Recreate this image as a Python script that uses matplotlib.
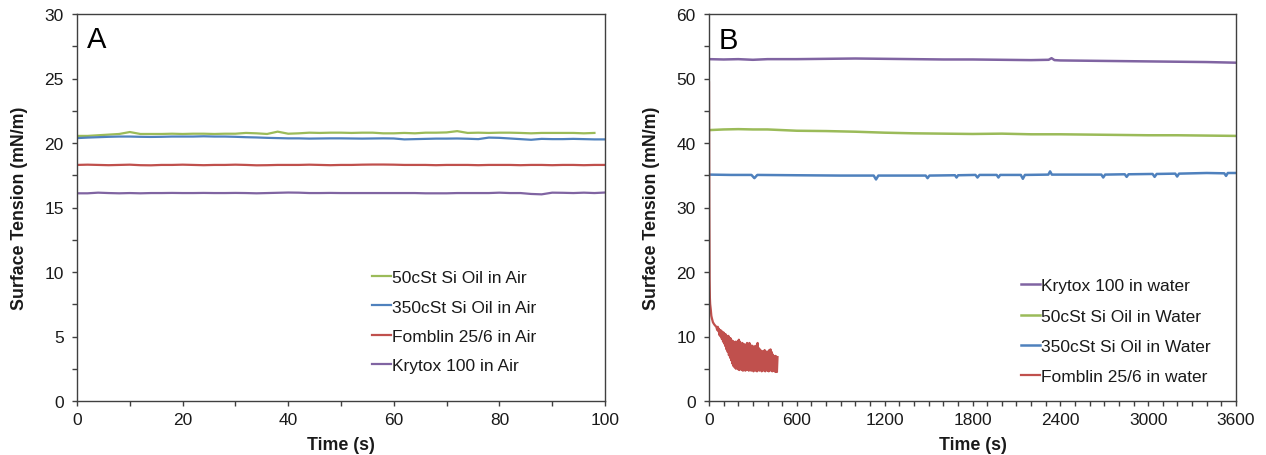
import numpy as np
import matplotlib
matplotlib.use("Agg")
import matplotlib.pyplot as plt
from matplotlib.ticker import MultipleLocator

plt.rcParams['font.family'] = ['Liberation Sans', 'DejaVu Sans']

GREEN = '#9BBB59'
BLUE = '#4F81BD'
RED = '#C0504D'
PURPLE = '#8064A2'

# ---------------- Panel A data (time step 2 s) ----------------
a_green = [20.55, 20.55, 20.6, 20.65, 20.7, 20.85, 20.7, 20.7, 20.7, 20.72,
           20.7, 20.72, 20.72, 20.7, 20.72, 20.72, 20.78, 20.75, 20.7, 20.88,
           20.72, 20.75, 20.8, 20.78, 20.8, 20.8, 20.78, 20.8, 20.8, 20.75,
           20.75, 20.78, 20.75, 20.8, 20.8, 20.82, 20.92, 20.78, 20.8, 20.78,
           20.8, 20.8, 20.78, 20.75, 20.78, 20.78, 20.78, 20.78, 20.75, 20.78]
a_blue = [20.38, 20.42, 20.45, 20.48, 20.5, 20.5, 20.48, 20.47, 20.48, 20.5,
          20.5, 20.5, 20.52, 20.5, 20.5, 20.48, 20.45, 20.43, 20.4, 20.38,
          20.36, 20.36, 20.34, 20.35, 20.36, 20.36, 20.35, 20.34, 20.35, 20.36,
          20.35, 20.28, 20.3, 20.32, 20.34, 20.34, 20.35, 20.33, 20.3, 20.42,
          20.4, 20.35, 20.3, 20.25, 20.32, 20.3, 20.3, 20.32, 20.3, 20.28, 20.28]
a_red = [18.3, 18.32, 18.3, 18.28, 18.3, 18.32, 18.28, 18.27, 18.3, 18.3,
         18.32, 18.3, 18.28, 18.3, 18.3, 18.32, 18.3, 18.27, 18.28, 18.3,
         18.3, 18.3, 18.32, 18.3, 18.28, 18.3, 18.3, 18.32, 18.33, 18.33,
         18.32, 18.3, 18.3, 18.3, 18.28, 18.3, 18.3, 18.3, 18.28, 18.3,
         18.3, 18.3, 18.28, 18.3, 18.3, 18.28, 18.3, 18.3, 18.28, 18.3, 18.3]
a_purple = [16.1, 16.1, 16.15, 16.12, 16.1, 16.12, 16.1, 16.12, 16.12, 16.13,
            16.12, 16.12, 16.13, 16.12, 16.12, 16.13, 16.12, 16.1, 16.12, 16.14,
            16.16, 16.15, 16.12, 16.12, 16.13, 16.12, 16.12, 16.12, 16.12, 16.12,
            16.12, 16.12, 16.12, 16.1, 16.1, 16.1, 16.12, 16.12, 16.12, 16.12,
            16.15, 16.12, 16.12, 16.05, 16.02, 16.15, 16.14, 16.12, 16.15, 16.12, 16.16]

# ---------------- Panel B data ----------------
b_purple_t = [0, 100, 200, 300, 400, 600, 800, 1000, 1200, 1400, 1600, 1800, 2000,
              2200, 2320, 2340, 2360, 2400, 2600, 2800, 3000, 3200, 3400, 3600]
b_purple = [53.0, 52.95, 53.0, 52.9, 53.0, 53.0, 53.05, 53.1, 53.05, 53.0, 52.95, 52.95, 52.9,
            52.85, 52.9, 53.15, 52.85, 52.8, 52.75, 52.7, 52.65, 52.6, 52.55, 52.45]

b_green_t = [0, 100, 200, 300, 400, 500, 600, 800, 1000, 1200, 1400, 1600, 1800,
             2000, 2200, 2400, 2600, 2800, 3000, 3200, 3400, 3600]
b_green = [42.0, 42.1, 42.15, 42.1, 42.1, 42.0, 41.9, 41.85, 41.75, 41.6, 41.5, 41.45, 41.4,
           41.45, 41.35, 41.35, 41.3, 41.25, 41.2, 41.2, 41.15, 41.1]

b_blue_t = [0, 150, 290, 310, 330, 600, 900, 1125, 1141, 1157, 1300, 1480, 1493, 1506,
            1680, 1691, 1702, 1820, 1834, 1848, 1965, 1977, 1989, 2130, 2144, 2158,
            2318, 2330, 2342, 2500, 2680, 2693, 2706, 2840, 2853, 2866, 3030, 3044,
            3058, 3185, 3198, 3211, 3400, 3520, 3532, 3544, 3600]
b_blue = [35.1, 35.05, 35.05, 34.55, 35.05, 35.0, 34.95, 34.95, 34.35, 34.95, 34.95, 34.95, 34.55, 34.95,
          35.0, 34.65, 35.0, 35.05, 34.65, 35.05, 35.05, 34.65, 35.05, 35.05, 34.45, 35.05,
          35.1, 35.6, 35.1, 35.1, 35.1, 34.65, 35.1, 35.15, 34.75, 35.15, 35.2, 34.75,
          35.2, 35.25, 34.8, 35.25, 35.35, 35.3, 34.9, 35.35, 35.35]

b_red_t0 = [0, 2, 4, 6, 8, 12, 16, 20, 27, 35, 42, 50, 56, 60, 64]
b_red0 = [49.4, 30.0, 19.0, 16.0, 15.0, 14.2, 13.2, 12.8, 12.2, 11.9, 11.7, 11.5, 11.0, 11.5, 10.8]
b_red_t1 = list(range(68, 469, 4))
b_red1 = [11.2, 10.2, 11.0, 10.0, 10.9, 9.6, 10.7, 9.2, 10.6, 8.9, 10.4, 8.5, 10.3, 8.0,
          10.0, 7.6, 10.1, 7.1, 9.8, 6.7, 9.7, 6.3, 9.4, 5.8, 9.3, 5.4, 9.0, 5.2, 9.2, 5.0,
          8.9, 5.1, 9.3, 4.9, 9.5, 4.8, 9.2, 5.0, 8.8, 4.8, 9.0, 4.7, 8.6, 4.9, 8.8, 4.7,
          8.5, 4.8, 9.0, 4.9, 8.7, 4.7, 9.0, 4.9, 8.4, 4.7, 8.6, 4.8, 8.3, 4.6, 8.5, 4.8,
          8.2, 4.7, 8.6, 4.6, 9.0, 4.8, 8.2, 4.7, 8.0, 4.8, 7.8, 4.6, 7.7, 4.8, 7.6, 4.7,
          7.9, 4.6, 7.7, 4.8, 7.5, 4.7, 7.7, 4.6, 7.9, 4.8, 8.0, 4.7, 7.6, 4.6, 7.2, 4.8,
          6.9, 4.6, 7.0, 4.5, 6.9, 4.5, 6.8]
b_red_t = b_red_t0 + b_red_t1
b_red = b_red0 + b_red1

labels_a = ['50cSt Si Oil in Air', '350cSt Si Oil in Air', 'Fomblin 25/6 in Air', 'Krytox 100 in Air']
labels_b = ['Krytox 100 in water', '50cSt Si Oil in Water', '350cSt Si Oil in Water', 'Fomblin 25/6 in water']

W, H = 1266, 456
fig = plt.figure(figsize=(W / 100, H / 100), dpi=100)
axA = fig.add_axes([77 / W, 1 - 402 / H, (605 - 77) / W, 387 / H])
axB = fig.add_axes([709 / W, 1 - 402 / H, (1236 - 709) / W, 387 / H])

TXT = '#1a1a1a'
SP = '#404040'
FS = 12.5

def style(ax):
    for s in ax.spines.values():
        s.set_color(SP)
        s.set_linewidth(1.0)
    ax.tick_params(which='both', direction='out', colors=SP, labelcolor=TXT,
                   labelsize=FS, top=False, right=False, length=3.6, width=1)
    ax.tick_params(axis='x', which='major', pad=4.5)
    ax.tick_params(axis='y', which='major', pad=6)

# Panel A
tA = lambda v: [2 * i for i in range(len(v))]
lw = 1.6
axA.plot(tA(a_green), a_green, color=GREEN, lw=lw, label=labels_a[0])
axA.plot(tA(a_blue), a_blue, color=BLUE, lw=lw, label=labels_a[1])
axA.plot(tA(a_red), a_red, color=RED, lw=lw, label=labels_a[2])
axA.plot(tA(a_purple), a_purple, color=PURPLE, lw=lw, label=labels_a[3])
axA.set_xlim(0, 100)
axA.set_ylim(0, 30)
axA.xaxis.set_major_locator(MultipleLocator(20))
axA.xaxis.set_minor_locator(MultipleLocator(10))
axA.yaxis.set_major_locator(MultipleLocator(5))
axA.yaxis.set_minor_locator(MultipleLocator(2.5))
style(axA)
axA.set_xlabel('Time (s)', fontsize=12.8, fontweight='bold', color=TXT)
axA.set_ylabel('Surface Tension (mN/m)', fontsize=12.8, fontweight='bold', color=TXT)
axA.xaxis.set_label_coords(0.5, -(437 - 402) / 387)
axA.yaxis.set_label_coords((28 - 77) / 528, 0.5)
axA.text(0.018, 0.972, 'A', transform=axA.transAxes, fontsize=21, va='top', ha='left', color='black')
axA.legend(loc='upper left', bbox_to_anchor=(372 / W, 1 - 271 / H), bbox_transform=fig.transFigure,
           frameon=False, fontsize=FS, handlelength=1.1, handletextpad=0.06,
           labelspacing=0.82, borderpad=0, borderaxespad=0, labelcolor=TXT)

# Panel B
lwb = 1.8
axB.plot(b_purple_t, b_purple, color=PURPLE, lw=lwb, label=labels_b[0])
axB.plot(b_green_t, b_green, color=GREEN, lw=lwb, label=labels_b[1])
axB.plot(b_blue_t, b_blue, color=BLUE, lw=lwb, label=labels_b[2])
axB.plot(b_red_t, b_red, color=RED, lw=1.6, label=labels_b[3])
axB.set_xlim(0, 3600)
axB.set_ylim(0, 60)
axB.xaxis.set_major_locator(MultipleLocator(600))
axB.xaxis.set_minor_locator(MultipleLocator(100))
axB.yaxis.set_major_locator(MultipleLocator(10))
axB.yaxis.set_minor_locator(MultipleLocator(5))
style(axB)
axB.set_xlabel('Time (s)', fontsize=12.8, fontweight='bold', color=TXT)
axB.set_ylabel('Surface Tension (mN/m)', fontsize=12.8, fontweight='bold', color=TXT)
axB.xaxis.set_label_coords(0.5, -(437 - 402) / 387)
axB.yaxis.set_label_coords((660 - 709) / 527, 0.5)
axB.text(0.018, 0.97, 'B', transform=axB.transAxes, fontsize=21, va='top', ha='left', color='black')
axB.legend(loc='upper left', bbox_to_anchor=(1021 / W, 1 - 279 / H), bbox_transform=fig.transFigure,
           frameon=False, fontsize=FS, handlelength=1.1, handletextpad=0.06,
           labelspacing=0.88, borderpad=0, borderaxespad=0, labelcolor=TXT)

fig.savefig('out.png', dpi=100)
